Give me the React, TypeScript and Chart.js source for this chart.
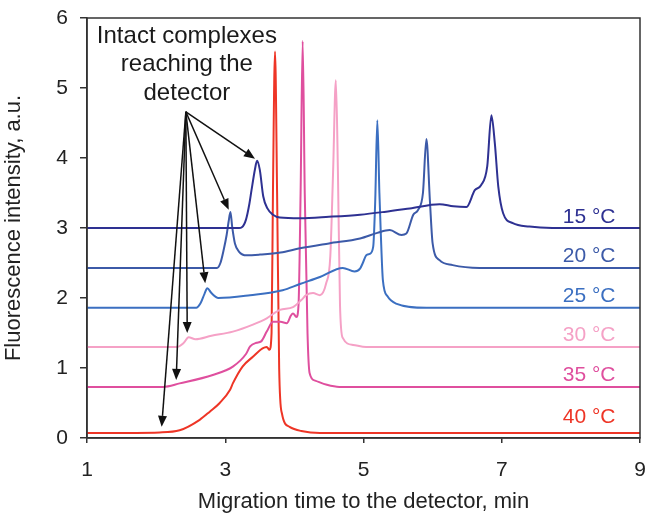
import React, { useEffect, useRef } from 'react';
import { Chart, registerables } from 'chart.js';

Chart.register(...registerables);

const FONT = '"Liberation Sans", Arial, Helvetica, sans-serif';

const xTicks = [1, 3, 5, 7, 9];
const yTicks = [0, 1, 2, 3, 4, 5, 6];

const seriesLabels = ['15 °C', '20 °C', '25 °C', '30 °C', '35 °C', '40 °C'];
const seriesColors = ['#2e3192', '#3c5aa8', '#3b6fc1', '#f5a1c6', '#df4f9e', '#ee3526'];

const t15 = [
  [1, 3.0], [3.0, 3.0], [3.2, 3.0], [3.24, 3.01], [3.3, 3.12], [3.35, 3.35], [3.38, 3.54], [3.43, 3.84],
  [3.46, 3.96], [3.5, 3.83], [3.55, 3.45], [3.61, 3.28], [3.69, 3.19], [3.79, 3.15], [4.08, 3.14],
  [4.5, 3.16], [4.95, 3.19], [5.3, 3.23], [5.67, 3.28], [6.1, 3.34], [6.3, 3.31], [6.49, 3.3],
  [6.61, 3.54], [6.7, 3.61], [6.79, 3.88], [6.85, 4.61], [6.9, 4.21], [6.95, 3.59], [7.02, 3.21],
  [7.16, 3.07], [7.4, 3.02], [7.73, 3.0], [9, 3.0],
];
const t20 = [
  [1, 2.43], [2.88, 2.43], [2.93, 2.5], [2.98, 2.7], [3.02, 2.9], [3.05, 3.1], [3.075, 3.23], [3.1, 3.02],
  [3.14, 2.78], [3.2, 2.66], [3.31, 2.61], [3.5, 2.62], [3.8, 2.65], [4.08, 2.71], [4.5, 2.78],
  [4.95, 2.85], [5.2, 2.93], [5.38, 2.97], [5.55, 2.9], [5.62, 2.92], [5.72, 3.19], [5.79, 3.26],
  [5.86, 3.5], [5.91, 4.27], [5.96, 3.4], [6.0, 2.78], [6.1, 2.54], [6.29, 2.47], [6.68, 2.43], [9, 2.43],
];
const t25 = [
  [1, 1.86], [2.58, 1.86], [2.64, 1.92], [2.7, 2.06], [2.74, 2.14], [2.8, 2.07], [2.9, 2.0],
  [3.36, 2.04], [3.83, 2.11], [4.08, 2.2], [4.37, 2.3], [4.7, 2.43], [4.87, 2.38], [4.95, 2.42],
  [4.99, 2.5], [5.04, 2.61], [5.09, 2.63], [5.14, 2.73], [5.17, 3.4], [5.2, 4.54], [5.23, 3.5],
  [5.25, 2.93], [5.28, 2.26], [5.35, 2.02], [5.47, 1.92], [5.91, 1.86], [9, 1.86],
];
const t30 = [
  [1, 1.3], [2.3, 1.3], [2.4, 1.36], [2.47, 1.44], [2.57, 1.41], [2.8, 1.46], [3.11, 1.52], [3.4, 1.62],
  [3.6, 1.71], [3.79, 1.83], [3.98, 1.87], [4.1, 1.97], [4.17, 2.04], [4.27, 2.07], [4.37, 2.04],
  [4.46, 2.21], [4.52, 2.6], [4.56, 3.8], [4.6, 5.11], [4.63, 3.8], [4.66, 1.9], [4.7, 1.43],
  [4.85, 1.33], [5.04, 1.3], [9, 1.3],
];
const t35 = [
  [1, 0.73], [2.1, 0.73], [2.34, 0.78], [2.82, 0.9], [3.11, 1.02], [3.3, 1.2], [3.36, 1.31], [3.45, 1.36],
  [3.52, 1.38], [3.6, 1.52], [3.69, 1.66], [3.8, 1.66], [3.89, 1.64], [3.95, 1.75], [3.98, 1.78],
  [4.03, 1.73], [4.06, 1.9], [4.09, 3.5], [4.12, 5.67], [4.15, 3.5], [4.19, 1.5], [4.22, 0.93],
  [4.3, 0.82], [4.47, 0.76], [4.65, 0.73], [9, 0.73],
];
const t40 = [
  [1, 0.07], [2.05, 0.08], [2.34, 0.11], [2.63, 0.26], [2.78, 0.38], [2.92, 0.5], [3.07, 0.69],
  [3.11, 0.78], [3.25, 1.02], [3.4, 1.16], [3.54, 1.28], [3.6, 1.3], [3.64, 1.26], [3.67, 1.5],
  [3.69, 3.5], [3.72, 5.52], [3.75, 3.5], [3.78, 1.0], [3.82, 0.35], [3.93, 0.16], [4.1, 0.1],
  [4.37, 0.07], [9, 0.07],
];
const traces = [t15, t20, t25, t30, t35, t40];

const labelX = 8.645;
const labelY = [3.15, 2.59, 2.03, 1.47, 0.9, 0.29];

const calloutLines = ['Intact complexes', 'reaching the', 'detector'];
const calloutX = 2.445;
const calloutY = [5.734, 5.336, 4.924];
const arrowOrigin = [2.43, 4.66];
const arrowTargets = [
  [3.43, 3.99],
  [3.05, 3.26],
  [2.71, 2.21],
  [2.45, 1.5],
  [2.29, 0.83],
  [2.08, 0.16],
];

const overlayPlugin = {
  id: 'overlay',
  afterDatasetsDraw(chart: any) {
    const { ctx, chartArea, scales } = chart;
    const xs = scales.x;
    const ys = scales.y;
    ctx.save();
    ctx.strokeStyle = '#333';
    ctx.lineWidth = 1.5;
    ctx.strokeRect(chartArea.left, chartArea.top, chartArea.right - chartArea.left, chartArea.bottom - chartArea.top);

    ctx.font = `21px ${FONT}`;
    ctx.textAlign = 'right';
    ctx.textBaseline = 'middle';
    seriesLabels.forEach((lab, i) => {
      ctx.fillStyle = seriesColors[i];
      ctx.fillText(lab, xs.getPixelForValue(labelX), ys.getPixelForValue(labelY[i]));
    });

    ctx.font = `24px ${FONT}`;
    ctx.textAlign = 'center';
    ctx.fillStyle = '#1a1a1a';
    calloutLines.forEach((t, i) => {
      ctx.fillText(t, xs.getPixelForValue(calloutX), ys.getPixelForValue(calloutY[i]));
    });

    const ox = xs.getPixelForValue(arrowOrigin[0]);
    const oy = ys.getPixelForValue(arrowOrigin[1]);
    ctx.strokeStyle = '#111';
    ctx.fillStyle = '#111';
    ctx.lineWidth = 1.5;
    arrowTargets.forEach(([tx, ty]) => {
      const px = xs.getPixelForValue(tx);
      const py = ys.getPixelForValue(ty);
      const ang = Math.atan2(py - oy, px - ox);
      const hl = 11;
      const hw = 4.5;
      const bx = px - hl * Math.cos(ang);
      const by = py - hl * Math.sin(ang);
      ctx.beginPath();
      ctx.moveTo(ox, oy);
      ctx.lineTo(bx, by);
      ctx.stroke();
      ctx.beginPath();
      ctx.moveTo(px, py);
      ctx.lineTo(bx + hw * Math.sin(ang), by - hw * Math.cos(ang));
      ctx.lineTo(bx - hw * Math.sin(ang), by + hw * Math.cos(ang));
      ctx.closePath();
      ctx.fill();
    });
    ctx.restore();
  },
};

export default function App() {
  const canvasRef = useRef<HTMLCanvasElement | null>(null);

  useEffect(() => {
    if (!canvasRef.current) return;
    const chart = new Chart(canvasRef.current, {
      type: 'line',
      data: {
        datasets: traces.map((tr, i) => ({
          label: seriesLabels[i],
          data: tr.map(([x, y]) => ({ x, y })),
          borderColor: seriesColors[i],
          backgroundColor: seriesColors[i],
          borderWidth: 2,
          pointRadius: 0,
          cubicInterpolationMode: 'monotone',
          fill: false,
        })),
      },
      options: {
        animation: false,
        responsive: false,
        maintainAspectRatio: false,
        layout: { padding: { top: 18, right: 5, left: 0, bottom: 0 } },
        plugins: { legend: { display: false }, tooltip: { enabled: false } },
        scales: {
          x: {
            type: 'linear',
            min: 1,
            max: 9,
            afterBuildTicks: (s: any) => {
              s.ticks = xTicks.map((v) => ({ value: v }));
            },
            ticks: {
              color: '#222',
              font: { family: FONT, size: 21 },
              padding: 15,
              maxRotation: 0,
              autoSkip: false,
            },
            grid: { drawOnChartArea: false, drawTicks: true, tickLength: 5, color: '#333', lineWidth: 1.5 },
            border: { display: true, color: '#333', width: 1.5 },
            title: {
              display: true,
              text: 'Migration time to the detector, min',
              color: '#222',
              font: { family: FONT, size: 22 },
              padding: { top: 0, bottom: 0 },
            },
            afterFit: (s: any) => {
              s.height = 77;
              s.paddingLeft = 0;
              s.paddingRight = 0;
            },
          },
          y: {
            type: 'linear',
            min: 0,
            max: 6,
            afterBuildTicks: (s: any) => {
              s.ticks = yTicks.map((v) => ({ value: v }));
            },
            ticks: {
              color: '#222',
              font: { family: FONT, size: 21 },
              padding: 12,
            },
            grid: { drawOnChartArea: false, drawTicks: true, tickLength: 7, color: '#333', lineWidth: 1.5 },
            border: { display: true, color: '#333', width: 1.5 },
            title: {
              display: true,
              text: 'Fluorescence intensity, a.u.',
              color: '#222',
              font: { family: FONT, size: 22 },
              padding: { top: 1, bottom: 0 },
            },
            afterFit: (s: any) => {
              s.width = 87;
              s.paddingTop = 0;
              s.paddingBottom = 0;
            },
          },
        },
      },
      plugins: [overlayPlugin],
    } as any);
    return () => chart.destroy();
  }, []);

  return (
    <div style={{ position: 'absolute', left: 0, top: 0, width: 645, height: 515, background: '#fff' }}>
      <canvas ref={canvasRef} width={645} height={515} style={{ display: 'block' }} />
    </div>
  );
}
